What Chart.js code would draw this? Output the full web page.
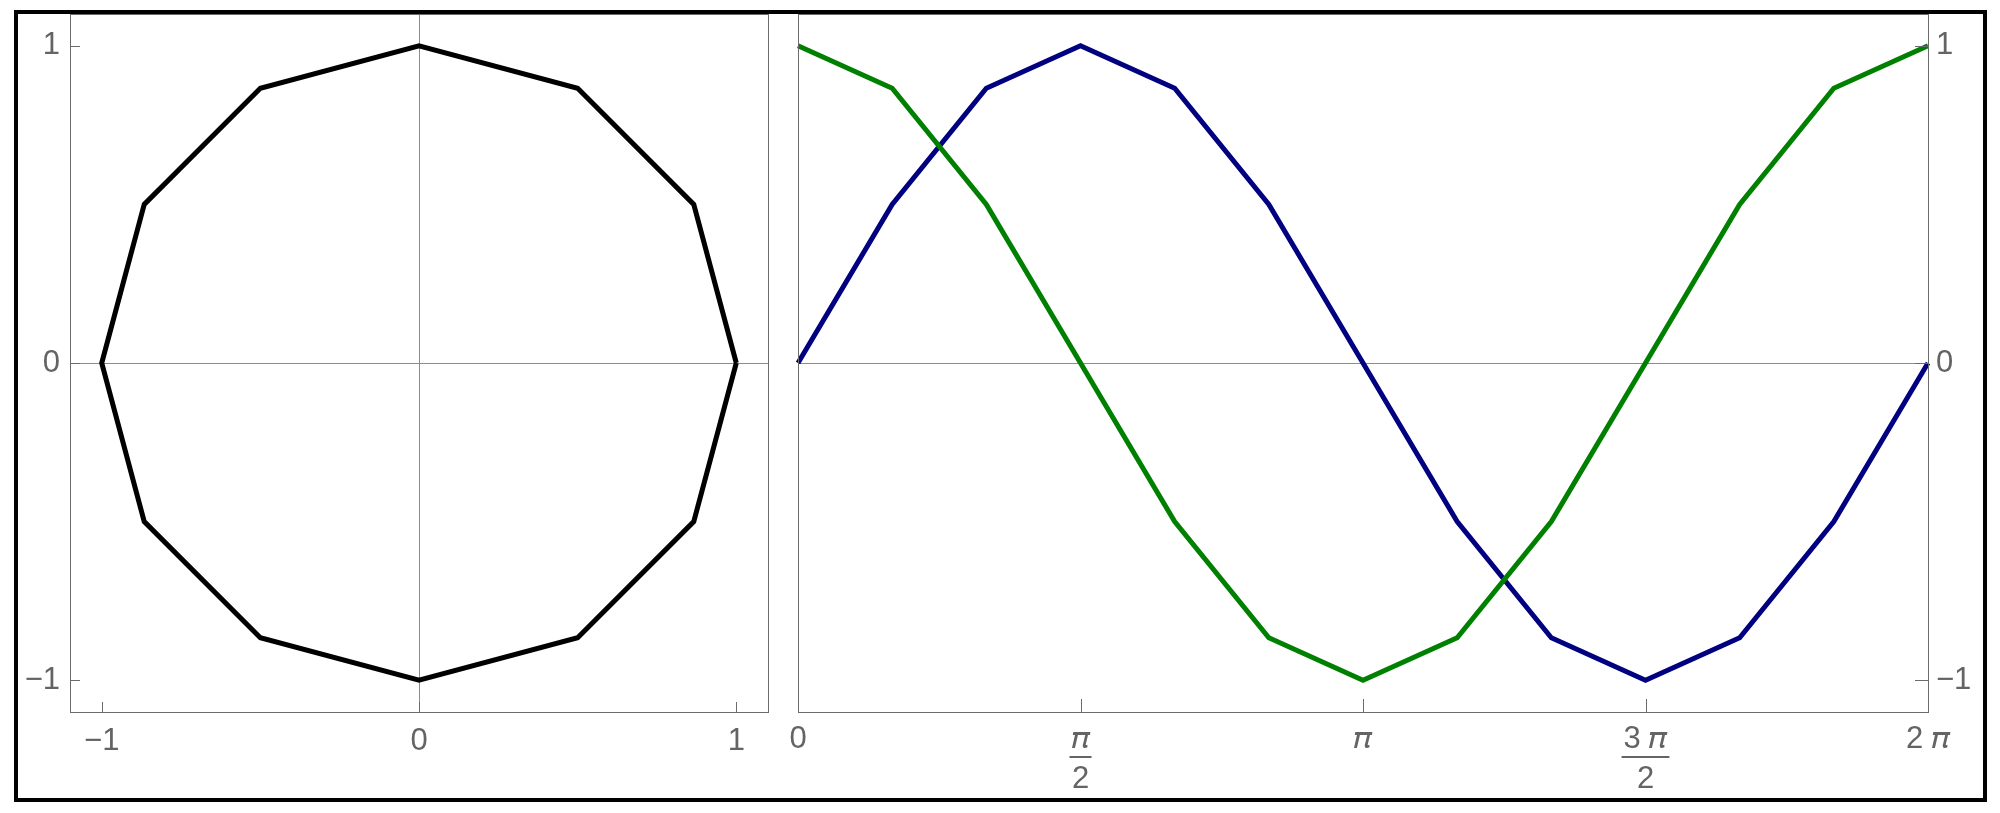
<!DOCTYPE html>
<html><head><meta charset="utf-8">
<script src="https://cdn.jsdelivr.net/npm/chart.js@4.4.1/dist/chart.umd.min.js"></script>
<style>
html,body{margin:0;padding:0;background:#fff;width:2000px;height:813px;overflow:hidden}
#border{position:absolute;left:14px;top:10px;width:1965px;height:784px;border:4px solid #000}
canvas{position:absolute;left:0;top:0}
</style></head><body>
<div id="border"></div>
<canvas id="c1" width="2000" height="813"></canvas>
<canvas id="c2" width="2000" height="813"></canvas>
<script>
// ---- data ----
const polyX = [1, 0.866, 0.5, 0, -0.5, -0.866, -1, -0.866, -0.5, 0, 0.5, 0.866, 1];
const polyY = [0, 0.5, 0.866, 1, 0.866, 0.5, 0, -0.5, -0.866, -1, -0.866, -0.5, 0];
const tVals = [0, 0.5236, 1.0472, 1.5708, 2.0944, 2.618, 3.1416, 3.6652, 4.1888, 4.7124, 5.236, 5.7596, 6.2832];
const sinVals = [0, 0.5, 0.866, 1, 0.866, 0.5, 0, -0.5, -0.866, -1, -0.866, -0.5, 0];
const cosVals = [1, 0.866, 0.5, 0, -0.5, -0.866, -1, -0.866, -0.5, 0, 0.5, 0.866, 1];
const leftTicks = [-1, 0, 1];
const leftTickLabels = ['\u22121', '0', '1'];
const rightXTicks = [0, 1.5708, 3.1416, 4.7124, 6.2832];
const rightXLabels = ['0', ['\uD835\uDF0B', '2'], '\uD835\uDF0B', ['3 \uD835\uDF0B', '2'], '2 \uD835\uDF0B'];
const rightYTicks = [-1, 0, 1];
const rightYLabels = ['\u22121', '0', '1'];

const FONT = "'Liberation Sans', 'DejaVu Sans', Arial, sans-serif";
const FSIZE = 31;
const LABEL = '#646464';
const FRAME = '#6b6b6b';
const AXIS = '#8c8c8c';

const framePlugin = {
  id: 'frameTicks',
  afterDraw(chart, args, o) {
    const ctx = chart.ctx, a = chart.chartArea;
    const xs = chart.scales.x, ys = chart.scales.y;
    ctx.save();
    ctx.strokeStyle = FRAME; ctx.lineWidth = 1;
    ctx.strokeRect(Math.round(a.left) + 0.5, Math.round(a.top) + 0.5,
                   Math.round(a.right - a.left), Math.round(a.bottom - a.top));
    ctx.beginPath();
    xs.ticks.forEach(t => {
      const px = Math.round(xs.getPixelForValue(t.value)) + 0.5;
      ctx.moveTo(px, a.bottom); ctx.lineTo(px, a.bottom - o.len);
    });
    ys.ticks.forEach(t => {
      const py = Math.round(ys.getPixelForValue(t.value)) + 0.5;
      if (o.side === 'left') { ctx.moveTo(a.left, py); ctx.lineTo(a.left + o.len, py); }
      else { ctx.moveTo(a.right, py); ctx.lineTo(a.right - o.len, py); }
    });
    ctx.stroke();
    if (o.fractions) {
      ctx.font = FSIZE + 'px ' + FONT;
      ctx.strokeStyle = LABEL; ctx.lineWidth = 2;
      ctx.beginPath();
      xs.ticks.forEach((t) => {
        const l = t.label;
        if (Array.isArray(l)) {
          const w = ctx.measureText(l[0]).width + 4;
          const px = xs.getPixelForValue(t.value);
          ctx.moveTo(px - w / 2, o.barY); ctx.lineTo(px + w / 2, o.barY);
        }
      });
      ctx.stroke();
    }
    ctx.restore();
  }
};

function zeroGrid(ctx) { return ctx.tick && ctx.tick.value === 0 ? AXIS : 'rgba(0,0,0,0)'; }
function fitX(s) { s.height = 95; s.paddingLeft = 0; s.paddingRight = 0; }
function fitY(s) { s.width = 50; s.paddingTop = 0; s.paddingBottom = 0; }

// ---- left chart: polygon ----
new Chart(document.getElementById('c1'), {
  type: 'scatter',
  data: { datasets: [{
    data: polyX.map((x, i) => ({ x: x, y: polyY[i] })),
    showLine: true, borderColor: '#000000', borderWidth: 5, pointRadius: 0, tension: 0, clip: false
  }]},
  options: {
    responsive: false, animation: false, events: [],
    layout: { padding: { left: 20, top: 14, right: 1232, bottom: 6 } },
    plugins: { legend: { display: false }, tooltip: { enabled: false },
      frameTicks: { len: 10, side: 'left' } },
    scales: {
      x: { type: 'linear', min: -1.1, max: 1.1,
        afterBuildTicks: s => { s.ticks = leftTicks.map(v => ({ value: v })); },
        afterFit: fitX,
        grid: { color: zeroGrid, lineWidth: 1, drawTicks: false },
        border: { display: false },
        ticks: { padding: 11, color: LABEL, font: { family: FONT, size: FSIZE, lineHeight: 1.2 },
          maxRotation: 0, autoSkip: false,
          callback: (v) => leftTickLabels[leftTicks.indexOf(v)] } },
      y: { type: 'linear', min: -1.1, max: 1.1,
        afterBuildTicks: s => { s.ticks = leftTicks.map(v => ({ value: v })); },
        afterFit: fitY,
        grid: { color: zeroGrid, lineWidth: 1, drawTicks: false },
        border: { display: false },
        ticks: { padding: 10, color: LABEL, font: { family: FONT, size: FSIZE },
          callback: (v) => leftTickLabels[leftTicks.indexOf(v)] } }
    }
  },
  plugins: [framePlugin]
});

// ---- right chart: sin / cos ----
new Chart(document.getElementById('c2'), {
  type: 'line',
  data: { datasets: [
    { data: tVals.map((t, i) => ({ x: t, y: cosVals[i] })), borderColor: '#008000', borderWidth: 5,
      pointRadius: 0, tension: 0, clip: false, fill: false },
    { data: tVals.map((t, i) => ({ x: t, y: sinVals[i] })), borderColor: '#000080', borderWidth: 5,
      pointRadius: 0, tension: 0, clip: false, fill: false }
  ]},
  options: {
    responsive: false, animation: false, events: [],
    layout: { padding: { left: 798, top: 14, right: 22, bottom: 6 } },
    plugins: { legend: { display: false }, tooltip: { enabled: false },
      frameTicks: { len: 13, side: 'right', fractions: true, barY: 757 } },
    scales: {
      x: { type: 'linear', min: 0, max: 6.2832,
        afterBuildTicks: s => { s.ticks = rightXTicks.map(v => ({ value: v })); },
        afterFit: fitX,
        grid: { display: false, drawTicks: false },
        border: { display: false },
        ticks: { padding: 7, color: LABEL, font: { family: FONT, size: FSIZE, lineHeight: 1.3 },
          maxRotation: 0, autoSkip: false,
          callback: (v) => rightXLabels[rightXTicks.indexOf(v)] } },
      y: { type: 'linear', position: 'right', min: -1.1, max: 1.1,
        afterBuildTicks: s => { s.ticks = rightYTicks.map(v => ({ value: v })); },
        afterFit: fitY,
        grid: { color: zeroGrid, lineWidth: 1, drawTicks: false },
        border: { display: false },
        ticks: { padding: 8, color: LABEL, font: { family: FONT, size: FSIZE },
          callback: (v) => rightYLabels[rightYTicks.indexOf(v)] } }
    }
  },
  plugins: [framePlugin]
});
</script>
</body></html>
